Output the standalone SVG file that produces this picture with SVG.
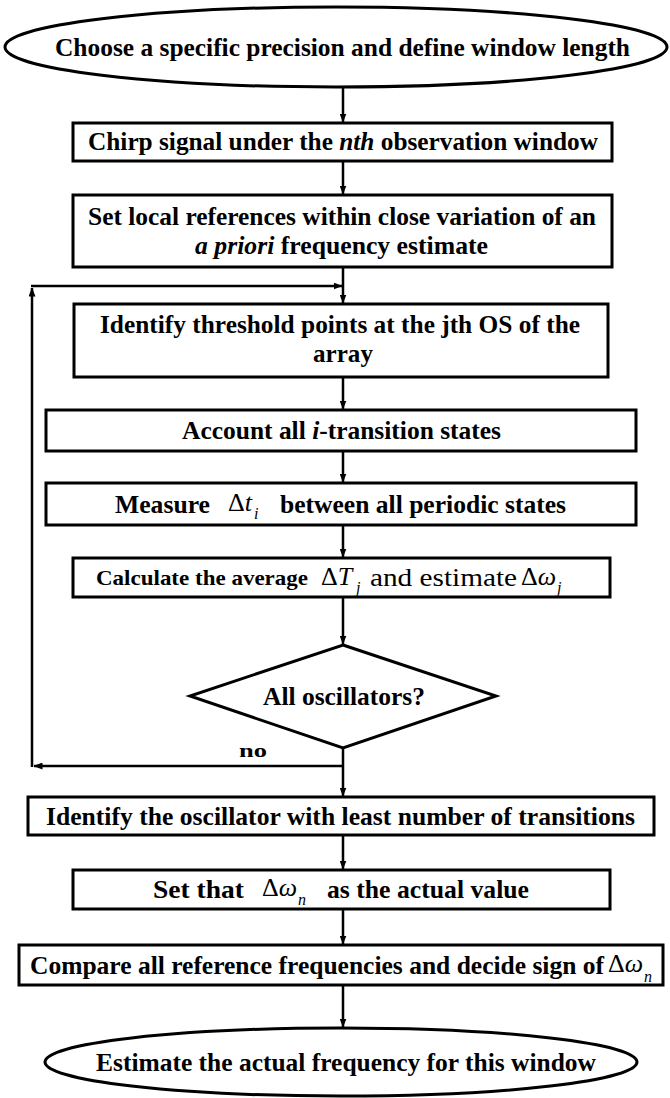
<svg xmlns="http://www.w3.org/2000/svg" width="670" height="1098" viewBox="0 0 670 1098">
<defs>
<marker id="ah" markerUnits="userSpaceOnUse" markerWidth="9" markerHeight="7" refX="8.5" refY="3.5" orient="auto">
<path d="M0,0 L9,3.5 L0,7 z" fill="#000"/>
</marker>
<style>
.shape{fill:#fff;stroke:#000;stroke-width:3}
.t{font-family:"Liberation Serif","Times New Roman",serif;font-weight:bold;font-size:25px;fill:#000}
.m{font-family:"Liberation Serif","Times New Roman",serif;font-weight:normal;font-size:26px;fill:#000}
.r{font-family:"Liberation Serif","Times New Roman",serif;font-weight:normal;font-size:25px;fill:#000}
.sub{font-family:"Liberation Serif","Times New Roman",serif;font-size:16px;font-style:italic;fill:#000}
.ca{fill:none;stroke:#000;stroke-width:2.5;marker-end:url(#ah)}
</style>
</defs>
<rect width="670" height="1098" fill="#fff"/>
<g id="connectors">
<line class="ca" x1="343" y1="88" x2="343" y2="122"/>
<line class="ca" x1="343" y1="162" x2="343" y2="194"/>
<line class="ca" x1="343" y1="268" x2="343" y2="303"/>
<line class="ca" x1="343" y1="378" x2="343" y2="409"/>
<line class="ca" x1="343" y1="452" x2="343" y2="482"/>
<line class="ca" x1="343" y1="526" x2="343" y2="557"/>
<line class="ca" x1="343" y1="598" x2="343" y2="644"/>
<line class="ca" x1="343" y1="749" x2="343" y2="796"/>
<line class="ca" x1="343" y1="836" x2="343" y2="869"/>
<line class="ca" x1="343" y1="910" x2="343" y2="944"/>
<line class="ca" x1="343" y1="986" x2="343" y2="1027"/>
<path class="ca" d="M343,766 H34"/>
<path class="ca" d="M32,767 V288"/>
<path class="ca" d="M31,286 H342"/>
</g>
<g id="n1">
<ellipse class="shape" cx="336" cy="47" rx="331" ry="40"/>
<text class="t" x="55" y="56" style="font-size:26px" textLength="575" lengthAdjust="spacingAndGlyphs">Choose a specific precision and define window length</text>
</g>
<g id="n2">
<rect class="shape" x="73" y="123" width="539" height="38"/>
<text class="t" x="88" y="150" textLength="510" lengthAdjust="spacingAndGlyphs">Chirp signal under the <tspan font-style="italic">nth</tspan> observation window</text>
</g>
<g id="n3">
<rect class="shape" x="73" y="195" width="539" height="72"/>
<text class="t" x="88" y="225" textLength="508" lengthAdjust="spacingAndGlyphs">Set local references within close variation of an</text>
<text class="t" x="195" y="254" textLength="293" lengthAdjust="spacingAndGlyphs"><tspan font-style="italic">a priori</tspan> frequency estimate</text>
</g>
<g id="n4">
<rect class="shape" x="74" y="304" width="534" height="73"/>
<text class="t" x="100" y="333" textLength="480" lengthAdjust="spacingAndGlyphs">Identify threshold points at the jth OS of the</text>
<text class="t" x="313" y="362" textLength="60" lengthAdjust="spacingAndGlyphs">array</text>
</g>
<g id="n5">
<rect class="shape" x="46" y="410" width="590" height="41"/>
<text class="t" x="182" y="439" textLength="319" lengthAdjust="spacingAndGlyphs">Account all <tspan font-style="italic">i</tspan>-transition states</text>
</g>
<g id="n6">
<rect class="shape" x="46" y="483" width="590" height="42"/>
<text class="t" x="115" y="513" textLength="95" lengthAdjust="spacingAndGlyphs">Measure</text>
<text class="m" x="228" y="511">Δ<tspan font-style="italic">t</tspan></text>
<text class="sub" x="254" y="519">i</text>
<text class="t" x="280" y="513" textLength="286" lengthAdjust="spacingAndGlyphs">between all periodic states</text>
</g>
<g id="n7">
<rect class="shape" x="73" y="558" width="537" height="39"/>
<text class="t" x="96" y="585" style="font-size:22px" textLength="212" lengthAdjust="spacingAndGlyphs">Calculate the average</text>
<text class="m" x="321" y="585">Δ<tspan font-style="italic">T</tspan></text>
<text class="sub" x="356" y="593">j</text>
<text class="r" x="370" y="586" textLength="147" lengthAdjust="spacingAndGlyphs">and estimate</text>
<text class="m" x="521" y="585">Δ<tspan font-style="italic">ω</tspan></text>
<text class="sub" x="557" y="593">j</text>
</g>
<g id="n8">
<polygon class="shape" points="343,645 496,696 343,748 190,696"/>
<text class="t" x="263" y="705" textLength="162" lengthAdjust="spacingAndGlyphs">All oscillators?</text>
</g>
<g id="lbl-no">
<text class="t" x="239" y="757" style="font-size:19px" textLength="28" lengthAdjust="spacingAndGlyphs">no</text>
</g>
<g id="n9">
<rect class="shape" x="28" y="797" width="626" height="38"/>
<text class="t" x="46" y="825" textLength="589" lengthAdjust="spacingAndGlyphs">Identify the oscillator with least number of transitions</text>
</g>
<g id="n10">
<rect class="shape" x="73" y="870" width="537" height="39"/>
<text class="t" x="153" y="898" textLength="91" lengthAdjust="spacingAndGlyphs">Set  that</text>
<text class="m" x="262" y="896">Δ<tspan font-style="italic">ω</tspan></text>
<text class="sub" x="298" y="905">n</text>
<text class="t" x="327" y="898" textLength="202" lengthAdjust="spacingAndGlyphs">as the actual value</text>
</g>
<g id="n11">
<rect class="shape" x="19" y="945" width="644" height="40"/>
<text class="t" x="30" y="974" textLength="574" lengthAdjust="spacingAndGlyphs">Compare all reference frequencies and decide sign of</text>
<text class="m" x="608" y="972">Δ<tspan font-style="italic">ω</tspan></text>
<text class="sub" x="644" y="982">n</text>
</g>
<g id="n12">
<ellipse class="shape" cx="341" cy="1062" rx="296" ry="34"/>
<text class="t" x="96" y="1071" textLength="500" lengthAdjust="spacingAndGlyphs">Estimate the actual frequency for this window</text>
</g>
</svg>
